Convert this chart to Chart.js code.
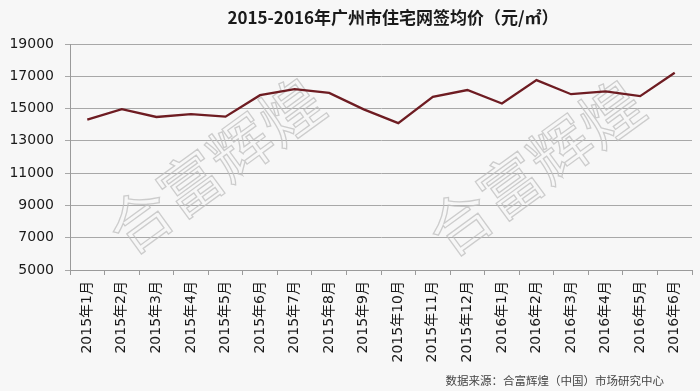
<!DOCTYPE html>
<html>
<head>
<meta charset="utf-8">
<script src="https://cdn.jsdelivr.net/npm/chart.js@4.4.1/dist/chart.umd.min.js"></script>
<style>
  html, body { margin: 0; padding: 0; background: #f7f7f7; }
  #wrap { width: 700px; height: 391px; position: relative; }
</style>
</head>
<body>
<div id="wrap"><canvas id="priceChart" width="700" height="391"></canvas></div>
<script>
// chart data
const months = ['2015年1月', '2015年2月', '2015年3月', '2015年4月', '2015年5月', '2015年6月',
    '2015年7月', '2015年8月', '2015年9月', '2015年10月', '2015年11月', '2015年12月',
    '2016年1月', '2016年2月', '2016年3月', '2016年4月', '2016年5月', '2016年6月'];
const avgPrice = [14320, 14960, 14480, 14650, 14500, 15830, 16200, 15970, 14950,
    14100, 15720, 16150, 15310, 16760, 15890, 16060, 15770, 17220];
const yMin = 5000;
const yMax = 19000;
const yStep = 2000;

const titleText = '2015-2016年广州市住宅网签均价（元/㎡）';
const sourceText = '数据来源：合富辉煌（中国）市场研究中心';
const watermarkText = '合富辉煌';

const cjkFont = '"Noto Sans CJK SC", "Noto Sans", sans-serif';
const labelFont = '"DejaVu Sans", "Noto Sans CJK SC", sans-serif';

// background, title, watermark and source note
const decorPlugin = {
    id: 'decor',
    beforeDraw(chart) {
        const c = chart.ctx;
        c.save();
        c.fillStyle = '#f7f7f7';
        c.fillRect(0, 0, chart.width, chart.height);
        c.restore();
    },
    beforeDatasetsDraw(chart) {
        const c = chart.ctx;
        // two hollow watermarks
        [[140, 220], [460, 222]].forEach(([x, y]) => {
            c.save();
            c.translate(x, y);
            c.rotate(-36 * Math.PI / 180);
            c.font = '62px ' + cjkFont;
            c.textAlign = 'left';
            c.textBaseline = 'middle';
            c.lineWidth = 1.3;
            c.strokeStyle = 'rgba(190, 190, 190, 0.75)';
            c.strokeText(watermarkText, -31, 0);
            c.restore();
        });
    },
    afterDraw(chart) {
        const c = chart.ctx;
        c.save();
        c.fillStyle = '#1a1a1a';
        c.font = 'bold 17px ' + cjkFont;
        c.textAlign = 'center';
        c.textBaseline = 'middle';
        c.fillText(titleText, 393, 18);
        c.fillStyle = '#444';
        c.font = '11.5px ' + cjkFont;
        c.textAlign = 'right';
        c.fillText(sourceText, 664, 381);
        c.restore();
    }
};

const ctx = document.getElementById('priceChart').getContext('2d');
const priceChart = new Chart(ctx, {
    type: 'line',
    data: {
        labels: months,
        datasets: [{
            label: '均价',
            data: avgPrice,
            borderColor: '#6e1c22',
            borderWidth: 2.3,
            pointRadius: 0,
            tension: 0,
            fill: false
        }]
    },
    options: {
        responsive: false,
        animation: false,
        layout: { padding: { top: 44, right: 8, left: 0, bottom: 0 } },
        plugins: {
            legend: { display: false },
            tooltip: { enabled: false },
            title: { display: false }
        },
        scales: {
            x: {
                offset: true,
                afterFit(scale) { scale.height = 121; },
                grid: {
                    offset: true,
                    drawOnChartArea: false,
                    drawTicks: true,
                    tickLength: 5,
                    color: '#9a9a9a'
                },
                border: { color: '#9a9a9a', width: 1 },
                ticks: {
                    autoSkip: false,
                    minRotation: 90,
                    maxRotation: 90,
                    padding: 6,
                    color: '#1a1a1a',
                    font: { size: 14, family: labelFont }
                }
            },
            y: {
                min: yMin,
                max: yMax,
                afterFit(scale) { scale.width = 70; },
                grid: {
                    color: '#a8a8a8',
                    tickLength: 5,
                    lineWidth: 1
                },
                border: { color: '#9a9a9a', width: 1 },
                ticks: {
                    stepSize: yStep,
                    padding: 11,
                    color: '#1a1a1a',
                    callback: v => String(v),
                    font: { size: 14, family: labelFont }
                }
            }
        }
    },
    plugins: [decorPlugin]
});
</script>
</body>
</html>
